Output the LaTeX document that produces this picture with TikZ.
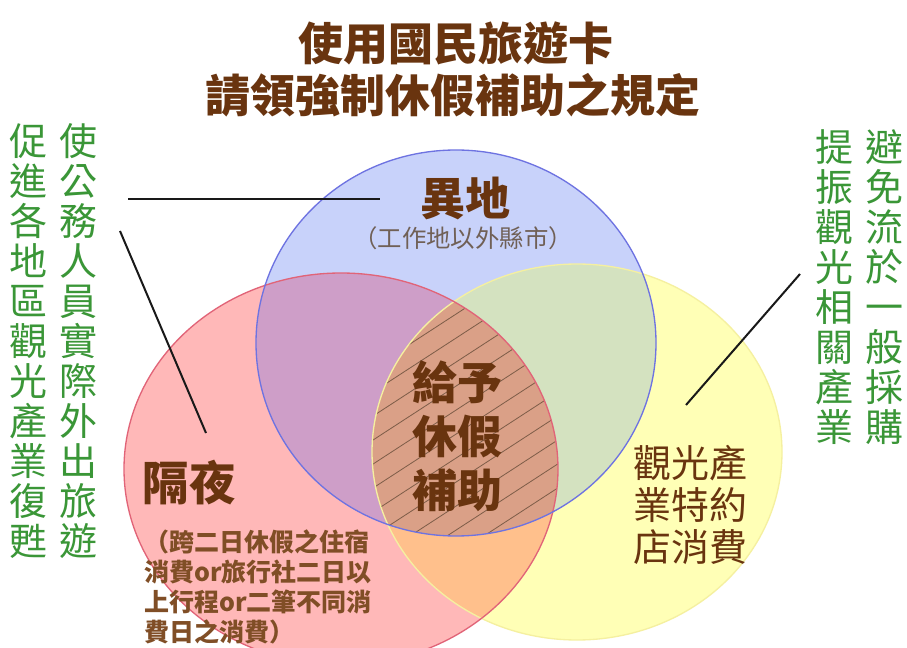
\documentclass[tikz,border=0pt]{standalone}
\usepackage{fontspec}
\newfontfamily\cjk{Noto Sans CJK TC}
\definecolor{titlebrown}{RGB}{105,52,15}
\definecolor{notebrown}{RGB}{128,78,38}
\definecolor{subgray}{RGB}{112,96,86}
\definecolor{leafgreen}{RGB}{58,150,55}
\definecolor{fillB}{RGB}{200,210,250}
\definecolor{fillR}{RGB}{255,184,184}
\definecolor{fillY}{RGB}{255,255,182}
\definecolor{fillBR}{RGB}{206,158,200}
\definecolor{fillBY}{RGB}{212,226,192}
\definecolor{fillRY}{RGB}{255,192,140}
\definecolor{fillBRY}{RGB}{218,160,135}
\definecolor{edgeB}{RGB}{110,115,225}
\definecolor{edgeR}{RGB}{225,100,120}
\definecolor{edgeY}{RGB}{245,240,160}
\definecolor{hatchcol}{RGB}{125,92,72}
\begin{document}
\begin{tikzpicture}[x=0.75pt,y=-0.75pt,
  ttl/.style={font=\cjk\bfseries\fontsize{33.75pt}{40pt}\selectfont, text=titlebrown, inner sep=0pt},
  bigtxt/.style={font=\cjk\bfseries\fontsize{33.75pt}{40.5pt}\selectfont, text=titlebrown, inner sep=0pt, align=center},
  subtxt/.style={font=\cjk\fontsize{18.3pt}{22pt}\selectfont, text=subgray, inner sep=0pt},
  notetxt/.style={font=\cjk\bfseries\fontsize{18.75pt}{22.5pt}\selectfont, text=notebrown, inner sep=0pt, align=left},
  shoptxt/.style={font=\cjk\fontsize{28.5pt}{31.5pt}\selectfont, text=titlebrown, inner sep=0pt, align=center},
  greencol/.style={font=\cjk\fontsize{28.5pt}{30pt}\selectfont, text=leafgreen, inner sep=0pt, align=center},
  pointer/.style={draw=black!90, line width=1.5pt},
  hatchline/.style={draw=hatchcol, line width=0.6pt}]
\useasboundingbox (0,0) rectangle (907,648);
\fill[white] (0,0) rectangle (907,648);
\def\venB{(456,343) ellipse [x radius=200, y radius=193]}
\def\venR{(341,469) ellipse [x radius=217, y radius=196]}
\def\venY{(577,452) ellipse [x radius=205, y radius=188]}
% base fills
\fill[fillY] \venY;
\fill[fillR] \venR;
\fill[fillB] \venB;
% pairwise overlaps
\begin{scope}\clip \venB; \fill[fillBR] \venR; \end{scope}
\begin{scope}\clip \venB; \fill[fillBY] \venY; \end{scope}
\begin{scope}\clip \venR; \fill[fillRY] \venY; \end{scope}
% triple overlap with hatching
\begin{scope}
  \clip \venB; \clip \venR; \fill[fillBRY] \venY;
  \clip \venY;
  \foreach \k in {-4,...,22} {
    \draw[hatchline] (330,{300+\k*24}) -- ++(280,-182);
  }
\end{scope}
% outlines
\draw[edgeY, line width=1pt] \venY;
\draw[edgeR, line width=1pt] \venR;
\draw[edgeB, line width=1pt] \venB;
% title
\node[ttl] (t1) at (456,43) {使用國民旅遊卡};
\node[ttl] (t2) at (453,95) {請領強制休假補助之規定};
% circle labels
\node[bigtxt] (yidi) at (465,198) {異地};
\node[subtxt] (yidisub) at (463,238) {（工作地以外縣市）};
\node[bigtxt] (ctr) at (457,436) {給予\\休假\\補助};
\node[font=\cjk\bfseries\fontsize{35pt}{40pt}\selectfont, text=titlebrown, inner sep=0pt] (geye) at (189,483) {隔夜};
\node[notetxt, anchor=north west] (note) at (144,529) {（跨二日休假之住宿\\消費or旅行社二日以\\上行程or二筆不同消\\費日之消費）};
\node[shoptxt] (shop) at (690,505) {觀光產\\業特約\\店消費};
% green side texts
\node[greencol] (colA) at (28,341) {促\\進\\各\\地\\區\\觀\\光\\產\\業\\復\\甦};
\node[greencol] (colB) at (78,341) {使\\公\\務\\人\\員\\實\\際\\外\\出\\旅\\遊};
\node[greencol] (colC) at (834,287) {提\\振\\觀\\光\\相\\關\\產\\業};
\node[greencol] (colD) at (884,287) {避\\免\\流\\於\\一\\般\\採\\購};
% connectors
\coordinate (p1a) at (128,199);
\coordinate (p1b) at (380,199);
\coordinate (p2a) at (120,231);
\coordinate (p2b) at (206,433);
\coordinate (p3a) at (800,274);
\coordinate (p3b) at (686,405);
\draw[pointer] (p1a) -- (p1b);
\draw[pointer] (p2a) -- (p2b);
\draw[pointer] (p3a) -- (p3b);
\end{tikzpicture}
\end{document}
